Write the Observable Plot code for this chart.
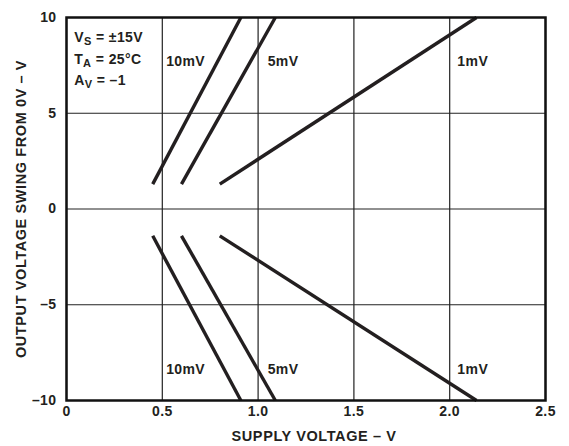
<!DOCTYPE html>
<html><head><meta charset="utf-8">
<script src="https://cdn.jsdelivr.net/npm/d3@7"></script>
<script src="https://cdn.jsdelivr.net/npm/@observablehq/plot@0.6"></script>
<style>
body{margin:0;background:#fff}
#chart svg{font-family:"Liberation Sans",Arial,sans-serif;font-weight:bold;}
</style>
</head><body><div id="chart"></div><script>
const xTicks = [0, 0.5, 1.0, 1.5, 2.0, 2.5];
const yTicks = [-10, -5, 0, 5, 10];
const series = ["10mV", "5mV", "1mV"];
// positive swing: [start, end]
const posX = [[0.45, 0.91], [0.60, 1.09], [0.80, 2.14]];
const posY = [[1.3, 10], [1.3, 10], [1.3, 10]];
// negative swing
const negX = [[0.45, 0.91], [0.60, 1.09], [0.80, 2.14]];
const negY = [[-1.4, -10], [-1.4, -10], [-1.4, -10]];
const labelX = [0.52, 1.05, 2.04];
const labelYTop = 7.7;
const labelYBottom = -8.4;
const conditions = ["V_S = ±15V", "T_A = 25°C", "A_V = –1"];
const conditionX = 0.04;
const conditionY = [8.95, 7.8, 6.7];
const xLabel = "SUPPLY VOLTAGE – V";
const yLabel = "OUTPUT VOLTAGE SWING FROM 0V – V";

const lines = [];
series.forEach((s, i) => {
  for (let k = 0; k < 2; k++) lines.push({s: "p" + s, x: posX[i][k], y: posY[i][k]});
  for (let k = 0; k < 2; k++) lines.push({s: "n" + s, x: negX[i][k], y: negY[i][k]});
});
const labels = [];
series.forEach((s, i) => {
  labels.push({t: s, x: labelX[i], y: labelYTop});
  labels.push({t: s, x: labelX[i], y: labelYBottom});
});
const conds = conditions.map((t, i) => ({t, x: conditionX, y: conditionY[i]}));

const fmtY = d => d < 0 ? "–" + Math.abs(d) : String(d);
const fmtX = d => d === 0 ? "0" : d.toFixed(1);

const chart = Plot.plot({
  width: 569, height: 446,
  marginLeft: 66, marginRight: 24, marginTop: 17, marginBottom: 46,
  style: {fontFamily: "'Liberation Sans', Arial, sans-serif", fontWeight: "bold", fontSize: "14px", color: "#231f20"},
  x: {domain: [0, 2.5], ticks: xTicks, tickFormat: fmtX, label: null},
  y: {domain: [-10, 10], ticks: yTicks, tickFormat: fmtY, label: null},
  marks: [
    Plot.gridX(xTicks, {stroke: "#222", strokeOpacity: 1, strokeWidth: 1.2}),
    Plot.gridY(yTicks, {stroke: "#222", strokeOpacity: 1, strokeWidth: 1.2}),
    Plot.axisX(xTicks, {tickSize: 0, tickPadding: 6, tickFormat: fmtX, fontSize: 14, fontWeight: "bold",
      label: xLabel, labelAnchor: "center", labelArrow: "none", labelOffset: 40}),
    Plot.axisY(yTicks, {tickSize: 0, tickPadding: 10, tickFormat: fmtY, fontSize: 14, fontWeight: "bold",
      label: yLabel, labelAnchor: "center", labelArrow: "none", labelOffset: 51}),
    Plot.line(lines, {x: "x", y: "y", z: "s", stroke: "#231f20", strokeWidth: 3.4, strokeLinecap: "butt"}),
    Plot.text(labels, {x: "x", y: "y", text: "t", textAnchor: "start", fontSize: 14, fontWeight: "bold", fill: "#231f20"}),
    Plot.text(conds, {x: "x", y: "y", text: "t", textAnchor: "start", fontSize: 14, fontWeight: "bold", fill: "#231f20"}),
    Plot.frame({stroke: "#111", strokeWidth: 2.5})
  ]
});
document.getElementById("chart").appendChild(chart);

// subscripts
d3.select(chart).selectAll("text").each(function () {
  const el = d3.select(this);
  if (this.querySelector("tspan")) return;
  const txt = this.textContent;
  const m = txt.match(/^(.)_(.)(.*)$/);
  if (!m) return;
  el.text(null);
  el.append("tspan").text(m[1]);
  el.append("tspan").attr("dy", "3").attr("font-size", "11").text(m[2]);
  el.append("tspan").attr("dy", "-3").text(m[3]);
});
d3.select(chart).selectAll("text").attr("letter-spacing", "0.4");
d3.select(chart).selectAll("text").filter(function () {
  return this.textContent === xLabel || this.textContent === yLabel;
}).style("font-size", "14.5px").style("letter-spacing", "0.6px");
d3.select(chart).selectAll("text").filter(function () {
  return this.textContent === xLabel;
}).attr("dx", 8);
</script></body></html>
